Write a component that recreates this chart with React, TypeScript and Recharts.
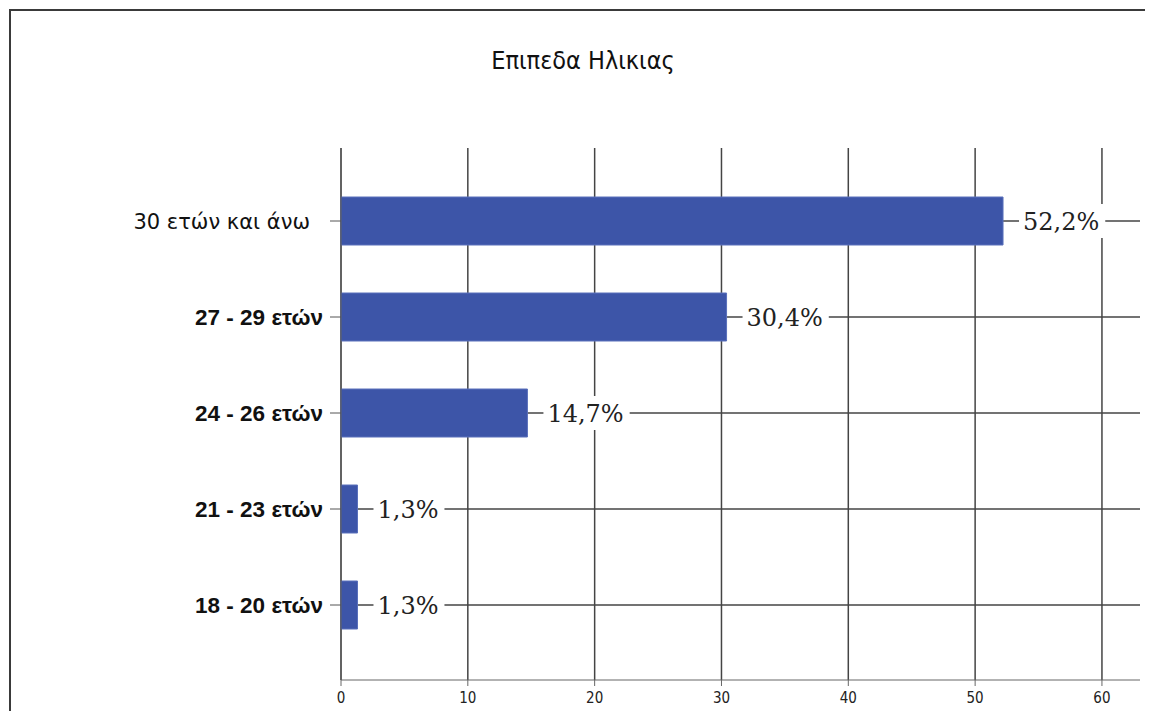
import { BarChart, Bar, XAxis, YAxis, CartesianGrid, LabelList } from "recharts";

const ageGroups = ["30 ετών και άνω", "27 - 29 ετών", "24 - 26 ετών", "21 - 23 ετών", "18 - 20 ετών"];
const percents = [52.2, 30.4, 14.7, 1.3, 1.3];
const xTicks = [0, 10, 20, 30, 40, 50, 60];
const title = "Επιπεδα Ηλικιας";

const data = ageGroups.map((name, i) => ({ name, value: percents[i] }));

const LABEL_FONT = 24;

function fmt(v: number) {
  return `${v.toFixed(1).replace(".", ",")}%`;
}

// rough width of DejaVu Serif glyphs, to size the white box behind the label
function textWidth(s: string) {
  let w = 0;
  for (const ch of s) {
    if (ch === ",") w += 0.318;
    else if (ch === "%") w += 0.95;
    else w += 0.636;
  }
  return w * LABEL_FONT;
}

function ValueLabel(props: any) {
  const { x, y, width, height, value } = props;
  const bx = Number(x) + Number(width);
  const cy = Number(y) + Number(height) / 2;
  const txt = fmt(Number(value));
  const tw = textWidth(txt);
  return (
    <g>
      <rect x={bx + 16} y={cy - 17} width={tw + 10} height={34} fill="#fff" />
      <text
        x={bx + 20}
        y={cy}
        dy="0.36em"
        fontFamily="'DejaVu Serif', serif"
        fontSize={LABEL_FONT}
        fill="#222"
      >
        {txt}
      </text>
    </g>
  );
}

function AgeTick(props: any) {
  const { x, y, payload, index } = props;
  const first = index === 0;
  return (
    <text
      x={first ? x - 13 : x}
      y={y}
      dy="0.36em"
      textAnchor="end"
      fontFamily={first ? "'DejaVu Sans', sans-serif" : "'Liberation Sans', Arial, sans-serif"}
      fontWeight={first ? 400 : 700}
      fontSize={first ? 21 : 22.5}
      fill="#111"
    >
      {payload.value}
    </text>
  );
}

export default function App() {
  return (
    <div
      style={{
        position: "relative",
        width: 1140,
        height: 700,
        marginLeft: 1,
        marginTop: 1,
        borderTop: "2px solid #3a3a3a",
        borderLeft: "2px solid #3a3a3a",
      }}
    >
      <div
        style={{
          position: "absolute",
          left: 272,
          top: 35,
          width: 600,
          textAlign: "center",
          fontFamily: "'DejaVu Sans Condensed', 'DejaVu Sans', sans-serif",
          fontSize: 25,
          color: "#111",
        }}
      >
        {title}
      </div>
      <div style={{ position: "absolute", left: 0, top: 0 }}>
        <BarChart
          width={1135}
          height={700}
          data={data}
          layout="vertical"
          margin={{ top: 137, right: 6, left: 0, bottom: 3 }}
        >
          <CartesianGrid stroke="#444" strokeWidth={1.5} syncWithTicks />
          <XAxis
            type="number"
            domain={[0, 63]}
            ticks={xTicks}
            height={28}
            tickSize={6}
            tickMargin={6}
            stroke="#666"
            tick={{
              fontFamily: "'Liberation Sans Narrow', 'DejaVu Sans Condensed', sans-serif",
              fontSize: 15,
              fill: "#222",
            }}
          />
          <YAxis
            type="category"
            dataKey="name"
            width={330}
            padding={{ top: 25, bottom: 27 }}
            tickSize={11}
            tickMargin={7}
            stroke="#555"
            tick={(p: any) => <AgeTick {...p} />}
          />
          <Bar
            dataKey="value"
            fill="#3d55a8"
            stroke="#5a70bb"
            strokeWidth={1}
            barSize={48}
            isAnimationActive={false}
          >
            <LabelList dataKey="value" content={(p: any) => <ValueLabel {...p} />} />
          </Bar>
        </BarChart>
      </div>
    </div>
  );
}
